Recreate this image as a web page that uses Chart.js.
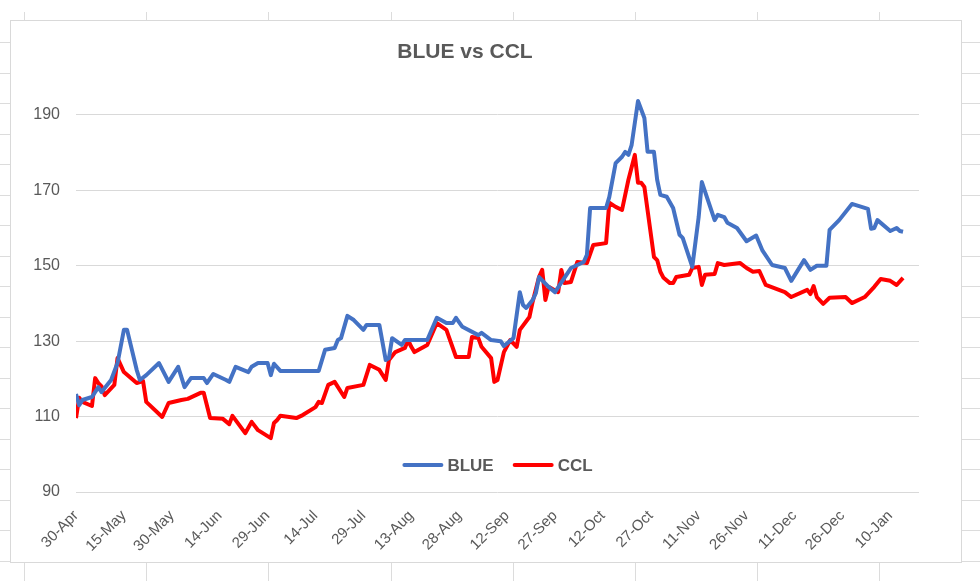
<!DOCTYPE html>
<html>
<head>
<meta charset="utf-8">
<script src="https://cdn.jsdelivr.net/npm/chart.js"></script>
<style>
  body { margin: 0; background: #fff; width: 980px; height: 581px; overflow: hidden; position: relative; }
  .frame { position: absolute; left: 10px; top: 20px; width: 952px; height: 543px; border: 1px solid #d9d9d9; box-sizing: border-box; background: #fff; }
  .frame canvas { position: absolute; left: 0; top: 0; }
  .cell { position: absolute; background: #dcdcdc; }
</style>
</head>
<body>
<div class="frame"><canvas id="chart" width="950" height="541"></canvas></div>
<script>
    // データ（4/30からの日数と値）
    const xTickLabels = ['30-Apr', '15-May', '30-May', '14-Jun', '29-Jun', '14-Jul', '29-Jul', '13-Aug', '28-Aug',
        '12-Sep', '27-Sep', '12-Oct', '27-Oct', '11-Nov', '26-Nov', '11-Dec', '26-Dec', '10-Jan'];
    const yTicks = [90, 110, 130, 150, 170, 190];

    const blueDays = [0, 1, 2, 5, 7, 8, 11, 13, 15, 16, 19, 20, 22, 26, 29, 32, 34, 36, 40, 41, 43, 47, 48, 50, 54, 55, 57, 60,
        61, 62, 64, 76, 78, 81, 82, 83, 85, 87, 90, 91, 95, 97, 98, 99, 102, 103, 110, 113, 116, 118, 119, 121, 126, 127,
        130, 133, 134, 137, 139, 140, 141, 143, 144, 145, 148, 150, 154, 155, 159, 160, 161, 166, 167, 169, 171, 172, 173,
        174, 176, 178, 179, 181, 182, 183, 185, 187, 189, 190, 193, 195, 196, 200, 201, 203, 204, 207, 210, 213, 215, 218,
        222, 224, 228, 230, 232, 235, 236, 239, 243, 248, 249, 250, 251, 255, 257, 258, 259];
    const blueValues = [116, 113, 114.4, 115.2, 117.8, 116.5, 119.7, 124.2, 133, 133, 122.4, 119.7, 121, 124.2, 119.2, 123.2,
        117.8, 120.2, 120.2, 118.9, 121.3, 119.7, 119.2, 123.2, 121.8, 123.2, 124.2, 124.2, 121, 124, 122.1, 122.1, 127.7,
        128.2, 130.3, 130.8, 136.7, 135.6, 133, 134.3, 134.3, 125, 125.5, 130.8, 129, 130.3, 130.3, 136.2, 134.8, 134.8,
        136.2, 133.8, 131.6, 132.2, 130.3, 130, 128.7, 130.8, 143, 139.6, 138.8, 140.9, 142.7, 147, 144.4, 143, 148.1,
        149.4, 151, 152.9, 165.3, 165.3, 168.2, 177.2, 178.9, 180.2, 179.4, 182, 193.7, 189.2, 180.2, 180.2, 172.8, 168.8,
        168.3, 165.3, 158.2, 157.4, 149.7, 162.9, 172.2, 162.1, 163.5, 162.9, 161.4, 160, 156.5, 158, 154, 150.2, 149.4,
        146, 151.5, 148.9, 150, 150, 159.5, 162.1, 166.4, 165.1, 159.8, 160, 162.1, 159.2, 160, 159.2, 159];

    const cclDays = [0, 1, 2, 5, 6, 7, 8, 9, 12, 13, 15, 19, 21, 22, 27, 29, 33, 35, 39, 40, 42, 46, 48, 49, 53, 55, 57, 61,
        62, 63, 64, 69, 71, 75, 76, 77, 79, 81, 84, 85, 90, 92, 95, 97, 98, 100, 103, 104, 105, 106, 110, 113, 116, 119,
        123, 124, 126, 127, 130, 131, 132, 134, 136, 138, 139, 142, 143, 145, 146, 147, 148, 151, 152, 153, 155, 157, 160,
        162, 166, 167, 169, 171, 173, 175, 176, 177, 178, 181, 182, 183, 184, 186, 187, 188, 192, 193, 195, 196, 197, 200,
        201, 203, 208, 210, 212, 214, 216, 222, 224, 229, 230, 231, 232, 234, 236, 241, 243, 247, 250, 252, 255, 257, 259];
    const cclValues = [109.6, 115, 113.9, 112.8, 120.2, 118.9, 118, 115.7, 118.4, 125.5, 121.8, 118.9, 119.4, 113.9, 109.9,
        113.6, 114.4, 114.7, 116.3, 116.3, 109.6, 109.4, 108, 110.2, 105.6, 108.6, 106.4, 104.3, 108.3, 109.1, 110.2, 109.6,
        110.4, 112.5, 113.9, 113.6, 118.4, 119.2, 115.2, 117.6, 118.4, 123.7, 122.4, 119.7, 125, 127.1, 128.2, 130.3, 128.5,
        127.1, 129, 134.8, 133, 125.8, 125.8, 131.1, 130.8, 128.5, 125.5, 119.2, 119.7, 127.1, 130.3, 128.5, 133, 136.4,
        140.4, 147, 148.9, 140.9, 144.4, 143, 148.9, 145.4, 145.7, 151, 150.7, 155.5, 156, 166.7, 165.6, 164.8, 172.8, 179.4,
        172, 172, 170.9, 152.3, 151.5, 148.4, 146.8, 145.4, 145.4, 147, 147.6, 149.4, 149.7, 144.9, 147.6, 147.8, 150.7,
        150.2, 150.7, 149.4, 148.4, 148.6, 144.9, 143, 141.7, 143.6, 142.5, 144.6, 141.7, 139.9, 141.5, 141.7, 140.1, 141.7,
        144.4, 146.5, 146, 144.9, 146.8];

    // シートのセル線（背景の飾り）
    function addCell(left, top, width, height) {
        let d = document.createElement('div');
        d.className = 'cell';
        d.style.left = left + 'px';
        d.style.top = top + 'px';
        d.style.width = width + 'px';
        d.style.height = height + 'px';
        document.body.appendChild(d);
    }
    for (let cx = 24; cx < 980; cx += 122.2) {
        addCell(Math.round(cx), 12, 1, 8);
        addCell(Math.round(cx), 563, 1, 18);
    }
    for (let cy = 11.5; cy < 581; cy += 30.5) {
        if (cy > 20 && cy < 563) {
            addCell(0, Math.round(cy), 10, 1);
            addCell(962, Math.round(cy), 18, 1);
        }
    }

    Chart.defaults.font.family = '"Liberation Sans", Arial, sans-serif';
    Chart.defaults.color = '#595959';

    // 凡例をグラフ内の下に描く
    const legendInside = {
        id: 'legendInside',
        afterDatasetsDraw(chart) {
            const ctx = chart.ctx;
            const area = chart.chartArea;
            const sample = 41;
            const gap = 4;
            const between = 19;
            ctx.save();
            ctx.font = 'bold 17px "Liberation Sans", Arial, sans-serif';
            let widths = chart.data.datasets.map(ds => sample + gap + ctx.measureText(ds.label).width);
            let total = widths.reduce((a, b) => a + b, 0) + between * (widths.length - 1);
            let x = (area.left + area.right) / 2 - total / 2;
            const y = area.bottom - 27;
            chart.data.datasets.forEach((ds, i) => {
                ctx.strokeStyle = ds.borderColor;
                ctx.lineWidth = 4;
                ctx.lineCap = 'round';
                ctx.beginPath();
                ctx.moveTo(x + 2, y);
                ctx.lineTo(x + sample - 2, y);
                ctx.stroke();
                ctx.fillStyle = '#595959';
                ctx.textAlign = 'left';
                ctx.textBaseline = 'middle';
                ctx.fillText(ds.label, x + sample + gap, y + 1);
                x += widths[i] + between;
            });
            ctx.restore();
        }
    };

    let ctx = document.getElementById('chart');
    let lineChart = new Chart(ctx, {
        type: 'line',
        data: {
            datasets: [{
                label: 'BLUE',
                data: blueDays.map((d, i) => ({ x: d, y: blueValues[i] })),
                borderColor: '#4472C4',
                backgroundColor: '#4472C4',
                borderWidth: 4,
                pointRadius: 0,
                tension: 0,
                borderJoinStyle: 'round'
            }, {
                label: 'CCL',
                data: cclDays.map((d, i) => ({ x: d, y: cclValues[i] })),
                borderColor: '#FF0000',
                backgroundColor: '#FF0000',
                borderWidth: 4,
                pointRadius: 0,
                tension: 0,
                borderJoinStyle: 'round'
            }]
        },
        options: {
            responsive: false,
            animation: false,
            devicePixelRatio: 1,
            layout: { padding: { top: 19, right: 42, bottom: 0, left: 0 } },
            scales: {
                x: {
                    type: 'linear',
                    min: 0,
                    max: 264,
                    afterBuildTicks: scale => {
                        scale.ticks = xTickLabels.map((_, i) => ({ value: i * 15 }));
                    },
                    afterFit: scale => { scale.height = 70; },
                    grid: { display: false, drawTicks: false },
                    border: { display: false },
                    ticks: {
                        autoSkip: false,
                        maxRotation: 45,
                        minRotation: 45,
                        padding: 15,
                        font: { size: 15 },
                        callback: value => xTickLabels[Math.round(value / 15)]
                    }
                },
                y: {
                    min: 90,
                    max: 200,
                    afterBuildTicks: scale => {
                        scale.ticks = yTicks.map(v => ({ value: v }));
                    },
                    afterFit: scale => { scale.width = 65; },
                    grid: { color: '#d9d9d9', lineWidth: 1, drawTicks: false },
                    border: { display: false },
                    ticks: { padding: 16, font: { size: 16 } }
                }
            },
            plugins: {
                legend: { display: false },
                tooltip: { enabled: false },
                title: {
                    display: true,
                    text: 'BLUE vs CCL',
                    color: '#595959',
                    font: { size: 21, weight: 'bold' },
                    padding: { top: 0, bottom: 12 }
                }
            }
        },
        plugins: [legendInside]
    });
</script>
</body>
</html>
